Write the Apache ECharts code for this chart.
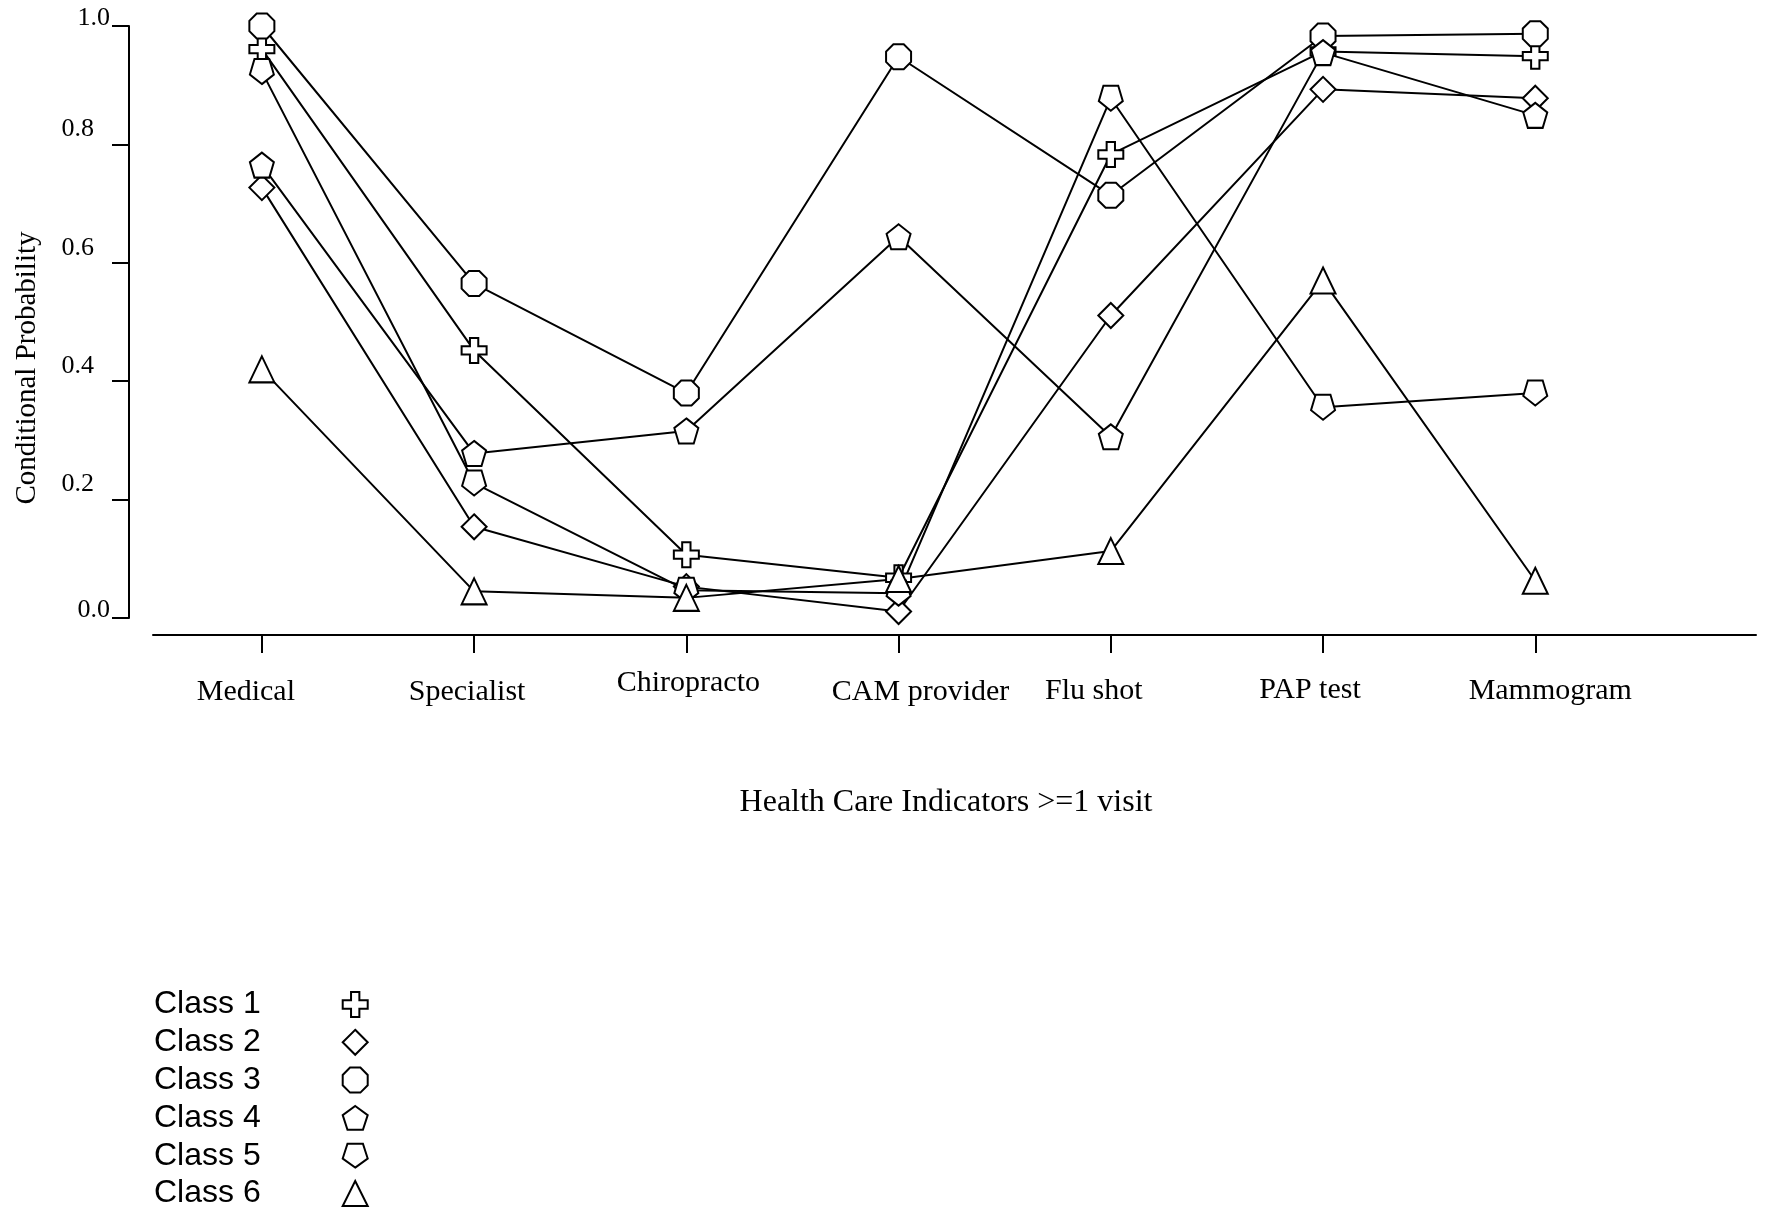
<!DOCTYPE html>
<html>
<head>
<meta charset="utf-8">
<script src="https://cdn.jsdelivr.net/npm/echarts@6/dist/echarts.min.js"></script>
<style>
html,body{margin:0;padding:0;background:#fff;}
#chart{width:1765px;height:1210px;}
</style>
</head>
<body>
<div id="chart"></div>
<script>
// ---- data ----
const categories = ['Medical', 'Specialist', 'Chiropracto', 'CAM provider', 'Flu shot', 'PAP test', 'Mammogram'];
const classNames = ['Class 1', 'Class 2', 'Class 3', 'Class 4', 'Class 5', 'Class 6'];
const class1 = [0.961, 0.452, 0.107, 0.068, 0.783, 0.957, 0.949];
const class2 = [0.727, 0.154, 0.053, 0.011, 0.511, 0.893, 0.878];
const class3 = [1.000, 0.565, 0.380, 0.948, 0.714, 0.983, 0.987];
const class4 = [0.765, 0.278, 0.316, 0.644, 0.306, 0.955, 0.849];
const class5 = [0.923, 0.228, 0.047, 0.042, 0.878, 0.356, 0.380];
const class6 = [0.420, 0.045, 0.034, 0.066, 0.113, 0.570, 0.063];
const yMin = 0, yMax = 1.0, yStep = 0.2;
const xTitle = 'Health Care Indicators >=1 visit';
const yTitle = 'Conditional Probability';

// ---- styling ----
const seriesValues = [class1, class2, class3, class4, class5, class6];
const SYM = {
  cross: 'path://M-3,-9L3,-9L3,-3L9,-3L9,3L3,3L3,9L-3,9L-3,3L-9,3L-9,-3L-3,-3Z',
  octagon: 'path://M-0.414,-1L0.414,-1L1,-0.414L1,0.414L0.414,1L-0.414,1L-1,0.414L-1,-0.414Z',
  pentUp: 'path://M0,-1L0.951,-0.309L0.588,0.809L-0.588,0.809L-0.951,-0.309Z',
  pentDown: 'path://M0,1L0.951,0.309L0.588,-0.809L-0.588,-0.809L-0.951,0.309Z'
};
const symbols = [SYM.cross, 'diamond', SYM.octagon, SYM.pentUp, SYM.pentDown, 'triangle'];
const symbolSizes = [[25, 25], [25, 25], [25, 25], [24, 25], [24, 25], [25, 26]];
// label nudges (dx, dy in px) for x tick labels
const xLabelNudge = [[-16, 0], [-7, 0], [2, -9], [22, 0], [-17, -1], [-13, -2], [15, -1]];

const serif = '"Liberation Serif", "Times New Roman", serif';
const sans = '"Liberation Sans", Arial, sans-serif';

const xRich = {};
xLabelNudge.forEach(function (n, i) {
  const dx = n[0], dy = n[1];
  xRich['l' + i] = {
    fontFamily: serif, fontSize: 30, lineHeight: 30, color: '#000',
    padding: [20 + 2 * dy, dx < 0 ? -2 * dx : 0, 0, dx > 0 ? 2 * dx : 0]
  };
});

const series = [];
seriesValues.forEach(function (vals, k) {
  const pts = vals.map(function (v, i) { return [i, v]; });
  series.push({
    name: classNames[k] + ' line', type: 'line', data: pts,
    symbol: 'none', z: 2, silent: true,
    lineStyle: { color: '#000', width: 2 }
  });
});
seriesValues.forEach(function (vals, k) {
  const pts = vals.map(function (v, i) { return [i, v]; });
  series.push({
    name: classNames[k], type: 'scatter', data: pts,
    symbol: symbols[k], symbolSize: symbolSizes[k], z: 3,
    itemStyle: { color: '#fff', borderColor: '#000', borderWidth: 2, opacity: 1 }
  });
});

const chart = echarts.init(document.getElementById('chart'), null, { renderer: 'canvas' });
chart.setOption({
  animation: false,
  backgroundColor: '#fff',
  grid: { left: 153, right: 9, top: 26, bottom: 592, containLabel: false },
  xAxis: {
    type: 'value', min: -0.513, max: 7.04, offset: 17,
    splitLine: { show: false },
    axisLine: { show: true, onZero: false, lineStyle: { color: '#000', width: 2 } },
    axisTick: { show: true, length: 18, lineStyle: { color: '#000', width: 2 }, customValues: categories.map(function (c, i) { return i; }) },
    axisLabel: {
      customValues: categories.map(function (c, i) { return i; }),
      margin: 32,
      formatter: function (v) { return '{l' + v + '|' + categories[v] + '}'; },
      rich: xRich
    }
  },
  yAxis: {
    type: 'value', min: yMin, max: yMax, interval: yStep, offset: 24,
    splitLine: { show: false },
    axisLine: { show: true, onZero: false, lineStyle: { color: '#000', width: 2 } },
    axisTick: { show: true, length: 17, lineStyle: { color: '#000', width: 2 } },
    axisLabel: {
      margin: 19,
      formatter: function (v) {
        const s = v.toFixed(1);
        return (Math.abs(v - yMin) < 1e-9 || Math.abs(v - yMax) < 1e-9) ? '{e|' + s + '}' : '{m|' + s + '}';
      },
      rich: {
        e: { fontFamily: serif, fontSize: 26, color: '#000', padding: [0, 0, 16, 0] },
        m: { fontFamily: serif, fontSize: 26, color: '#000', padding: [0, 16, 30, 0] }
      }
    }
  },
  legend: {
    orient: 'vertical', left: 154, top: 988.5, itemGap: 5.8, padding: 0,
    itemWidth: 25, itemHeight: 25, align: 'right',
    selectedMode: false,
    data: classNames.map(function (n, k) { return { name: n, icon: symbols[k] }; }),
    itemStyle: { color: '#fff', borderColor: '#000', borderWidth: 2 },
    textStyle: { fontFamily: sans, fontSize: 32, color: '#000', padding: [0, 77, 0, 0] }
  },
  graphic: [
    { type: 'text', x: 946, y: 803, silent: true,
      style: { text: xTitle, font: '32px ' + serif, fill: '#000', align: 'center', verticalAlign: 'middle' } },
    { type: 'text', x: 27, y: 368, rotation: Math.PI / 2, silent: true,
      style: { text: yTitle, font: '29px ' + serif, fill: '#000', align: 'center', verticalAlign: 'middle' } }
  ],
  series: series
});
</script>
</body>
</html>
